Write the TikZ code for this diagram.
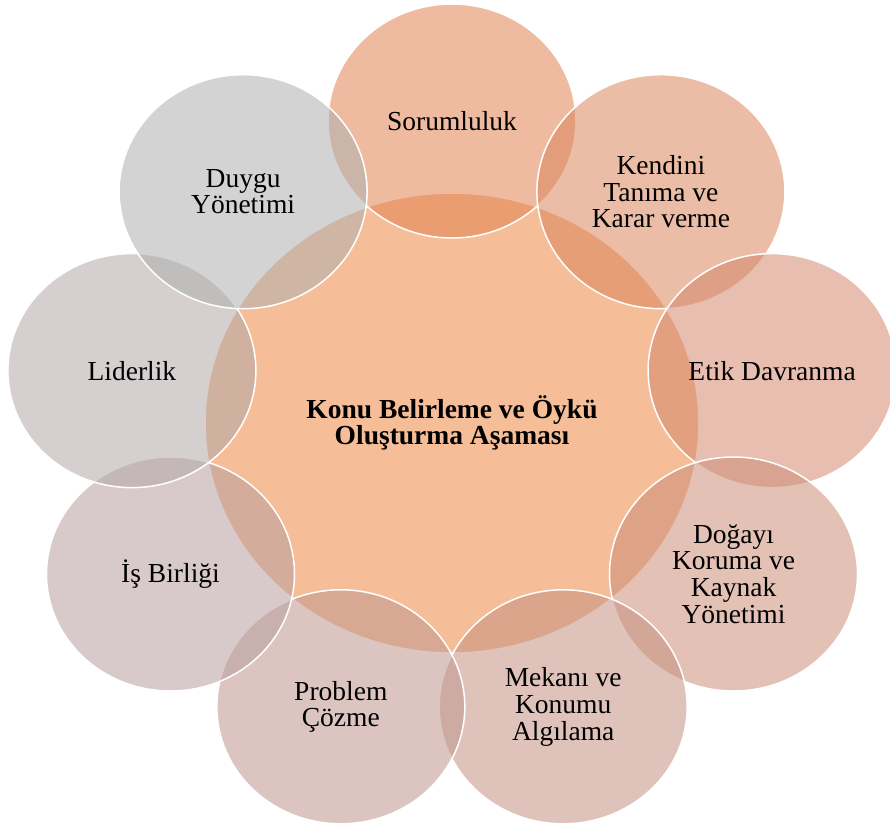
\documentclass[tikz,border=0pt]{standalone}
\usepackage{fontspec}
\setmainfont{Liberation Serif}
\usetikzlibrary{shapes.geometric}
\definecolor{cmain}{RGB}{245,190,152}
\definecolor{c1}{RGB}{226,131,82}
\definecolor{c2}{RGB}{219,133,93}
\definecolor{c3}{RGB}{211,137,110}
\definecolor{c4}{RGB}{204,142,120}
\definecolor{c5}{RGB}{197,146,130}
\definecolor{c6}{RGB}{191,150,142}
\definecolor{c7}{RGB}{184,159,159}
\definecolor{c8}{RGB}{179,168,168}
\definecolor{c9}{RGB}{175,175,175}
\newcommand{\petalfont}{\fontsize{27.5}{26.7}\selectfont}
\tikzset{
  petal/.style={ellipse, draw=white, line width=1.5pt, fill=#1,
    fill opacity=0.55, draw opacity=1, text opacity=1, text=black,
    minimum width=248pt, minimum height=234pt, inner sep=0pt,
    align=center, font=\petalfont},
  hub/.style={ellipse, draw=white, line width=1.5pt, fill=cmain,
    text=black, minimum width=494pt, minimum height=460pt, inner sep=0pt,
    align=center, font=\petalfont\bfseries}
}
\begin{document}
\begin{tikzpicture}[x=1pt,y=-1pt]
\useasboundingbox (0,0) rectangle (890,827);
\node[hub] (main) at (452,423) {Konu Belirleme ve Öykü\\Oluşturma Aşaması};
\node[petal=c1] (p1) at (452,121) {Sorumluluk};
\node[petal=c2] (p2) at (660.9,191.7) {Kendini\\Tanıma ve\\Karar verme};
\node[petal=c3] (p3) at (772.1,370.6) {Etik Davranma};
\node[petal=c4] (p4) at (733.5,574) {Doğayı\\Koruma ve\\Kaynak\\Yönetimi};
\node[petal=c5] (p5) at (563.2,706.8) {Mekanı ve\\Konumu\\Algılama};
\node[petal=c6] (p6) at (340.8,706.8) {Problem\\Çözme};
\node[petal=c7] (p7) at (170.5,574) {İş Birliği};
\node[petal=c8] (p8) at (131.9,370.6) {Liderlik};
\node[petal=c9] (p9) at (243.1,191.7) {Duygu\\Yönetimi};
\end{tikzpicture}
\end{document}
